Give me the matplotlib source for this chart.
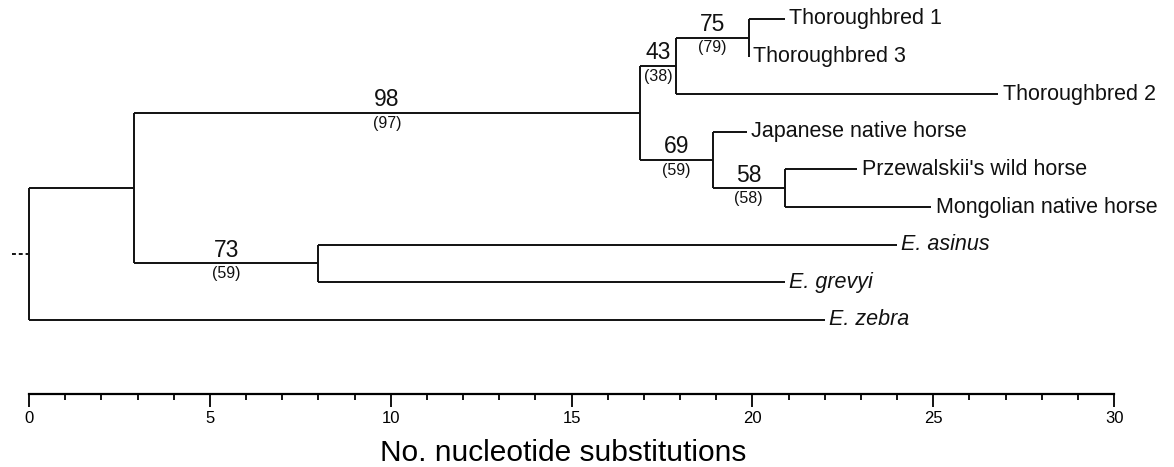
import matplotlib.pyplot as plt
from matplotlib.ticker import FixedLocator

plt.rcParams['font.family'] = ['Liberation Sans', 'DejaVu Sans']

# tips, top to bottom, with distance from the root
leaves = ["Thoroughbred 1", "Thoroughbred 3", "Thoroughbred 2",
          "Japanese native horse", "Przewalskii's wild horse",
          "Mongolian native horse", "E. asinus", "E. grevyi", "E. zebra"]
leaf_depth = [20.9, 19.9, 26.8, 19.85, 22.9, 24.95, 24.0, 20.9, 22.0]

# internal nodes
node_names = ["root", "A", "horse", "n43", "n75", "n69", "n58", "asses"]
node_depth = [0.0, 2.9, 16.9, 17.9, 19.9, 18.9, 20.9, 8.0]
node_children = [["A", "E. zebra"], ["horse", "asses"], ["n43", "n69"],
                 ["n75", "Thoroughbred 2"], ["Thoroughbred 1", "Thoroughbred 3"],
                 ["Japanese native horse", "n58"],
                 ["Przewalskii's wild horse", "Mongolian native horse"],
                 ["E. asinus", "E. grevyi"]]

# bootstrap values on the branch leading to a node
boot_node = ["horse", "asses", "n43", "n75", "n69", "n58"]
boot_top = [98, 73, 43, 75, 69, 58]
boot_low = [97, 59, 38, 79, 59, 58]

ticks_major = [0, 5, 10, 15, 20, 25, 30]
ticks_minor = list(range(0, 31))

depth = dict(zip(leaves, leaf_depth))
depth.update(zip(node_names, node_depth))
children = dict(zip(node_names, node_children))
ypos = {name: i for i, name in enumerate(leaves)}
parent = {}


def get_y(n):
    if n not in ypos:
        ys = [get_y(c) for c in children[n]]
        ypos[n] = sum(ys) / len(ys)
    return ypos[n]


for n in node_names:
    get_y(n)
    for c in children[n]:
        parent[c] = n

fig = plt.figure(figsize=(11.74, 4.67), dpi=100)
ax = fig.add_axes([0, 0, 1, 1])
lc = '#111111'
lw = 1.4

for n in node_names:
    ys = [ypos[c] for c in children[n]]
    ax.plot([depth[n], depth[n]], [min(ys), max(ys)], color=lc, lw=lw,
            solid_capstyle='butt')
    for c in children[n]:
        ax.plot([depth[n], depth[c]], [ypos[c], ypos[c]], color=lc, lw=lw,
                solid_capstyle='butt')

# dashed stub to the root
ax.plot([-0.47, 0], [ypos["root"], ypos["root"]], color=lc, lw=lw,
        linestyle=(0, (2, 1.5)))

for name in leaves:
    style = 'italic' if name.startswith("E.") else 'normal'
    ax.text(depth[name] + 0.12, ypos[name], name, fontsize=15.5,
            fontstyle=style, va='center', ha='left', color=lc)

for n, top, low in zip(boot_node, boot_top, boot_low):
    xm = (depth[n] + depth[parent[n]]) / 2
    ax.text(xm, ypos[n] - 0.04, str(top), fontsize=16.5, ha='center',
            va='bottom', color=lc)
    ax.text(xm, ypos[n] + 0.07, "(%d)" % low, fontsize=11.5, ha='center',
            va='top', color=lc)

px = 36.17
ax.set_xlim(-29 / px, (1174 - 29) / px)
ax.set_ylim((467 - 19) / 37.6, -19 / 37.6)

for s in ['top', 'right', 'left']:
    ax.spines[s].set_visible(False)
ax.spines['bottom'].set_position(('data', 9.97))
ax.spines['bottom'].set_bounds(0, 30)
ax.spines['bottom'].set_linewidth(1.6)
ax.set_yticks([])
ax.set_xticks(ticks_major)
ax.xaxis.set_minor_locator(FixedLocator(ticks_minor))
ax.tick_params(axis='x', which='major', direction='out', length=9.5,
               width=1.3, labelsize=12, pad=3)
ax.tick_params(axis='x', which='minor', direction='out', length=4.5,
               width=1.3)
ax.set_xlabel("No. nucleotide substitutions", fontsize=21.5)
ax.xaxis.set_label_coords(563 / 1174, 0.0, transform=fig.transFigure)
ax.xaxis.label.set_va('bottom')

fig.savefig("out.png", dpi=100)
